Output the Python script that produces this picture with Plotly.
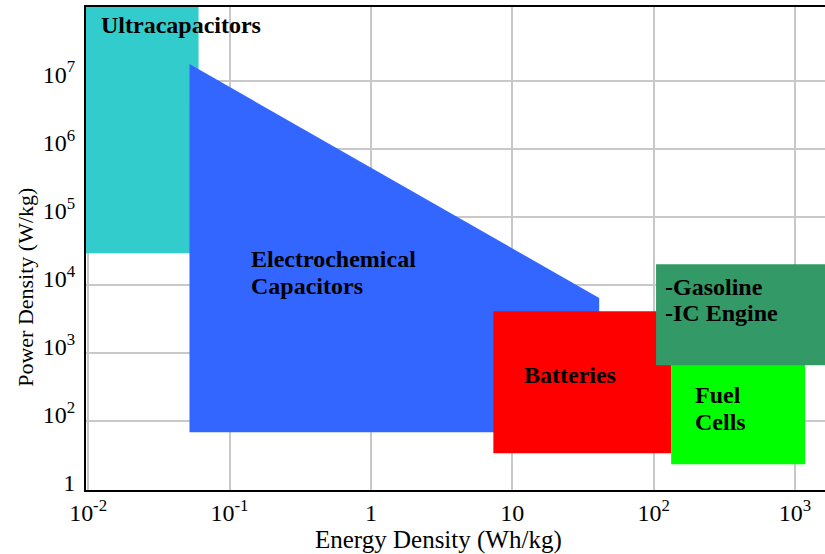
import math
import plotly.graph_objects as go

# Ragone plot: energy density (Wh/kg) vs power density (W/kg), log-log
technologies = ["Ultracapacitors", "Electrochemical Capacitors", "Batteries",
                "Fuel Cells", "-Gasoline -IC Engine"]
colors = ["#33CCCC", "#3366FF", "#FF0000", "#00FF00", "#339966"]

# polygon outlines for each region (energy Wh/kg, power W/kg)
ultracap_energy = [0.0096, 0.0604, 0.0604, 0.0096]
ultracap_power = [2.95e4, 2.95e4, 1.3e8, 1.3e8]

echem_energy = [0.0521, 41.2, 41.2, 0.0521]
echem_power = [1.78e7, 6.5e3, 69, 69]

battery_energy = [7.35, 133, 133, 7.35]
battery_power = [33.8, 33.8, 4150, 4150]

fuelcell_energy = [133, 1178, 1178, 133]
fuelcell_power = [23.3, 23.3, 700, 700]

gasoline_energy = [104, 2500, 2500, 104]
gasoline_power = [667, 667, 2.04e4, 2.04e4]

regions = [
    (ultracap_energy, ultracap_power),
    (echem_energy, echem_power),
    (battery_energy, battery_power),
    (fuelcell_energy, fuelcell_power),
    (gasoline_energy, gasoline_power),
]

# region labels, one entry per text line (left edge, vertical centre)
label_lines = ["Ultracapacitors", "Electrochemical", "Capacitors", "Batteries",
               "Fuel", "Cells", "-Gasoline", "-IC Engine"]
label_energy = [0.01185, 0.138, 0.138, 11.8, 190, 190, 116, 116]
label_power = [6.6e7, 2.41e4, 9.66e3, 474, 241, 96.6, 9.34e3, 3.87e3]

x_tickvals = [0.01, 0.1, 1, 10, 100, 1000]
x_ticktext = ["10<sup>-2</sup>", "10<sup>-1</sup>", "1", "10", "10<sup>2</sup>", "10<sup>3</sup>"]
y_tickvals = [10, 1e2, 1e3, 1e4, 1e5, 1e6, 1e7]
y_ticktext = ["1", "10<sup>2</sup>", "10<sup>3</sup>", "10<sup>4</sup>",
              "10<sup>5</sup>", "10<sup>6</sup>", "10<sup>7</sup>"]

serif = "Liberation Serif, Times New Roman, serif"

fig = go.Figure()
for (ex, py), col, name in zip(regions, colors, technologies):
    fig.add_trace(go.Scatter(
        x=ex + [ex[0]], y=py + [py[0]], mode="lines", fill="toself",
        fillcolor=col, line=dict(width=0, color=col), name=name,
        hoverinfo="name", showlegend=False))

# annotations on log axes take log10 coordinates
for text, ex, py in zip(label_lines, label_energy, label_power):
    fig.add_annotation(x=math.log10(ex), y=math.log10(py), xref="x", yref="y",
                       text="<b>" + text + "</b>", showarrow=False,
                       xanchor="left", yanchor="middle", align="left",
                       font=dict(family=serif, size=24, color="black"))

fig.add_annotation(text="Energy Density (Wh/kg)", xref="paper", yref="paper",
                   x=0.477, y=-0.104, xanchor="center", yanchor="middle",
                   showarrow=False, font=dict(family=serif, size=25, color="black"))
fig.add_annotation(text="Power Density (W/kg)", xref="paper", yref="paper",
                   x=-0.083, y=0.42, xanchor="center", yanchor="middle", textangle=-90,
                   showarrow=False, font=dict(family=serif, size=22, color="black"))

fig.update_xaxes(type="log", range=[-2.015, 3.212], tickvals=x_tickvals, ticktext=x_ticktext,
                 showgrid=True, gridcolor="#C8C8C8", gridwidth=1.5,
                 showline=True, linecolor="black", linewidth=2, mirror=True,
                 ticks="", zeroline=False, ticklabelstandoff=0,
                 tickfont=dict(family=serif, size=24, color="black"))
fig.update_yaxes(type="log", range=[0.99, 8.09], tickvals=y_tickvals, ticktext=y_ticktext,
                 showgrid=True, gridcolor="#C8C8C8", gridwidth=1.5,
                 showline=True, linecolor="black", linewidth=2, mirror=False,
                 ticks="", zeroline=False, ticklabelstandoff=4, ticklabelshift=-7,
                 tickfont=dict(family=serif, size=24, color="black"))

fig.update_layout(width=825, height=554, margin=dict(l=86, r=0, t=7, b=64),
                  plot_bgcolor="white", paper_bgcolor="white")

fig.write_html("out.html")
